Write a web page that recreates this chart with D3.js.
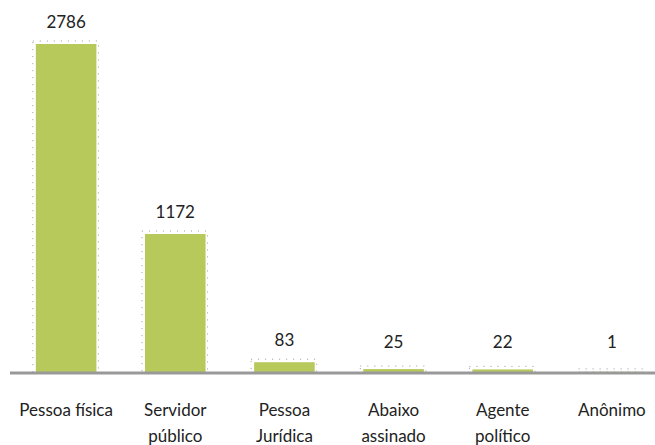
<!DOCTYPE html>
<html>
<head>
<meta charset="utf-8">
<script src="https://cdn.jsdelivr.net/npm/d3@7"></script>
<style>
  body { margin: 0; background: #fff; }
  text { font-family: Lato, "Open Sans", sans-serif; fill: #222; }
</style>
</head>
<body>
<svg width="655" height="445"></svg>
<script>
// categories (two-line labels) and counts
var categories = [["Pessoa física"], ["Servidor", "público"], ["Pessoa", "Jurídica"], ["Abaixo", "assinado"], ["Agente", "político"], ["Anônimo"]];
var values = [2786, 1172, 83, 25, 22, 1];

var svg = d3.select("svg");
var baseline = 372;

var x = d3.scaleBand()
  .domain(d3.range(values.length))
  .range([14, 664])
  .paddingInner(0.445)
  .paddingOuter(0.2);

var y = d3.scaleLinear().domain([0, 2786]).range([baseline, 44]);

// dotted outlines behind bars
svg.selectAll("rect.outline")
  .data(values)
  .enter()
  .append("rect")
  .attr("class", "outline")
  .attr("x", function(d, i) { return x(i) - 3; })
  .attr("y", function(d) { return y(d) - 3; })
  .attr("width", x.bandwidth() + 5)
  .attr("height", function(d) { return baseline - y(d) + 3; })
  .attr("fill", "none")
  .attr("stroke", "#999")
  .attr("stroke-width", 1)
  .attr("stroke-dasharray", "1,6");

svg.selectAll("rect.bar")
  .data(values)
  .enter()
  .append("rect")
  .attr("class", "bar")
  .attr("x", function(d, i) { return x(i); })
  .attr("y", function(d) { return y(d); })
  .attr("width", x.bandwidth())
  .attr("height", function(d) { return baseline - y(d); })
  .attr("fill", "#b8c95c");

// axis line
svg.append("line")
  .attr("x1", 10).attr("x2", 655)
  .attr("y1", baseline + 1).attr("y2", baseline + 1)
  .attr("stroke", "#999")
  .attr("stroke-width", 3);

// value labels
svg.selectAll("text.val")
  .data(values)
  .enter()
  .append("text")
  .attr("class", "val")
  .attr("x", function(d, i) { return x(i) + x.bandwidth() / 2; })
  .attr("y", function(d) { return Math.min(y(d), baseline - 8) - 16; })
  .attr("text-anchor", "middle")
  .style("font-size", "17px")
  .text(function(d) { return d; });

// category labels
svg.selectAll("text.cat")
  .data(categories)
  .enter()
  .append("text")
  .attr("class", "cat")
  .attr("text-anchor", "middle")
  .attr("x", function(d, i) { return x(i) + x.bandwidth() / 2; })
  .attr("y", 416)
  .style("font-size", "17px")
  .each(function(d) {
    var t = d3.select(this);
    d.forEach(function(line, j) {
      t.append("tspan")
        .attr("x", t.attr("x"))
        .attr("dy", j === 0 ? 0 : 26)
        .text(line);
    });
  });
</script>
</body>
</html>
